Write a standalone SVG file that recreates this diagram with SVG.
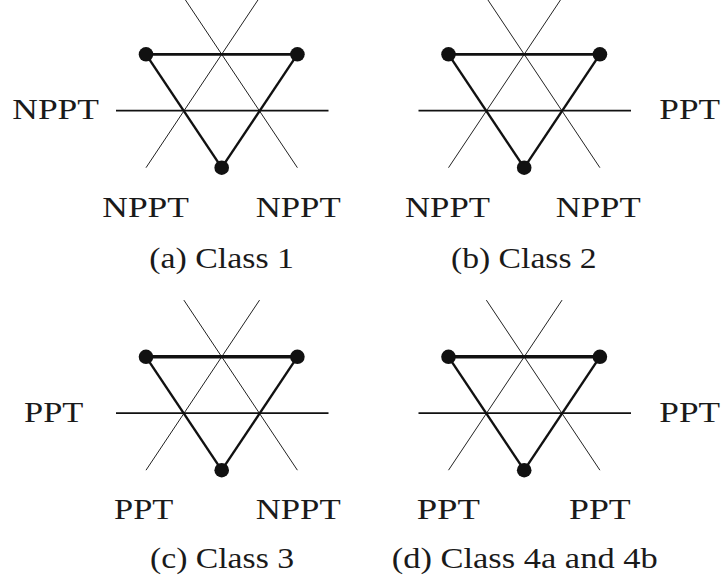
<svg xmlns="http://www.w3.org/2000/svg" width="723" height="583" viewBox="0 0 723 583">
<style>
.thin{stroke:#222;stroke-width:1;fill:none}
.mid{stroke:#111;stroke-width:1.8;fill:none}
.thick{stroke:#111;stroke-width:2.4;fill:none}
.dot{fill:#111}
.lbl{font-family:'Liberation Serif','Times New Roman',Tinos,'Nimbus Roman',Times,serif;font-size:29px;fill:#1a1a1a}
</style>
<defs>
<g id="motif-lines">
<line class="thin" x1="183.85" y1="-2.4" x2="297.4" y2="167.7"/>
<line class="thin" x1="259.55" y1="-2.4" x2="146" y2="167.7"/>
<line class="mid" x1="116" y1="110.7" x2="328.5" y2="110.7"/>
<line class="thick" x1="146" y1="54.3" x2="221.7" y2="167.7"/>
<line class="thick" x1="297.4" y1="54.3" x2="221.7" y2="167.7"/>
</g>
<g id="motif-dots">
<circle class="dot" cx="146" cy="54.3" r="7.3"/>
<circle class="dot" cx="297.4" cy="54.3" r="7.3"/>
<circle class="dot" cx="221.7" cy="167.7" r="7.3"/>
</g>
</defs>
<g id="connectors">
<use href="#motif-lines"/>
<line class="thick" style="stroke-width:2.7" x1="146" y1="54.3" x2="297.4" y2="54.3"/>
<use href="#motif-lines" transform="translate(302.5,0)"/>
<line class="thick" style="stroke-width:2.7" x1="448.5" y1="54.3" x2="599.9" y2="54.3"/>
<use href="#motif-lines" transform="translate(0,302.5)"/>
<line class="thick" style="stroke-width:3.4" x1="146" y1="356.8" x2="297.4" y2="356.8"/>
<use href="#motif-lines" transform="translate(302.5,302.5)"/>
<line class="thick" style="stroke-width:3.4" x1="448.5" y1="356.8" x2="599.9" y2="356.8"/>
</g>
<g id="panel-a">
<use href="#motif-dots"/>
<text class="lbl" x="12.3" y="119" textLength="86.7" lengthAdjust="spacingAndGlyphs">NPPT</text>
<text class="lbl" x="102.3" y="217" textLength="86.7" lengthAdjust="spacingAndGlyphs">NPPT</text>
<text class="lbl" x="255.7" y="217" textLength="85" lengthAdjust="spacingAndGlyphs">NPPT</text>
<text class="lbl" x="149.3" y="267.5" textLength="144.7" lengthAdjust="spacingAndGlyphs">(a) Class 1</text>
</g>
<g id="panel-b">
<use href="#motif-dots" transform="translate(302.5,0)"/>
<text class="lbl" x="659.3" y="119" textLength="60.7" lengthAdjust="spacingAndGlyphs">PPT</text>
<text class="lbl" x="405" y="217" textLength="85" lengthAdjust="spacingAndGlyphs">NPPT</text>
<text class="lbl" x="555.7" y="217" textLength="85" lengthAdjust="spacingAndGlyphs">NPPT</text>
<text class="lbl" x="451" y="267.5" textLength="145.7" lengthAdjust="spacingAndGlyphs">(b) Class 2</text>
</g>
<g id="panel-c">
<use href="#motif-dots" transform="translate(0,302.5)"/>
<text class="lbl" x="24" y="422" textLength="59.3" lengthAdjust="spacingAndGlyphs">PPT</text>
<text class="lbl" x="114" y="518.5" textLength="59.3" lengthAdjust="spacingAndGlyphs">PPT</text>
<text class="lbl" x="255.7" y="518.5" textLength="85" lengthAdjust="spacingAndGlyphs">NPPT</text>
<text class="lbl" x="150" y="568" textLength="144" lengthAdjust="spacingAndGlyphs">(c) Class 3</text>
</g>
<g id="panel-d">
<use href="#motif-dots" transform="translate(302.5,302.5)"/>
<text class="lbl" x="659.3" y="422" textLength="60.7" lengthAdjust="spacingAndGlyphs">PPT</text>
<text class="lbl" x="416.7" y="518.5" textLength="63.3" lengthAdjust="spacingAndGlyphs">PPT</text>
<text class="lbl" x="569" y="518.5" textLength="61.7" lengthAdjust="spacingAndGlyphs">PPT</text>
<text class="lbl" x="391.7" y="568" textLength="266" lengthAdjust="spacingAndGlyphs">(d) Class 4a and 4b</text>
</g>
</svg>
